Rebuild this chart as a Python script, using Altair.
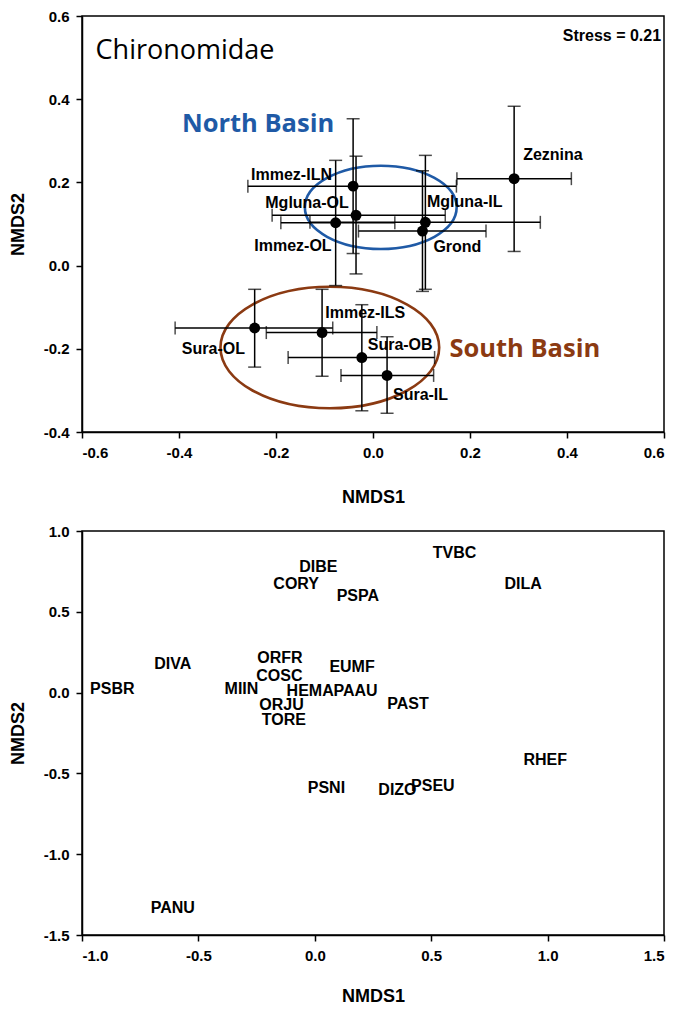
import altair as alt
import pandas as pd

# ---------------- top panel: site centroids with error bars ----------------
sites = ["Zeznina", "Mgluna-IL", "Grond", "Immez-ILN", "Mgluna-OL",
         "Immez-OL", "Immez-ILS", "Sura-OL", "Sura-OB", "Sura-IL"]
nmds1 = [0.291, 0.108, 0.102, -0.041, -0.035, -0.077, -0.105, -0.244, -0.023, 0.029]
nmds2 = [0.209, 0.104, 0.083, 0.191, 0.121, 0.103, -0.161, -0.150, -0.221, -0.264]
x_lo = [0.173, -0.130, -0.030, -0.258, -0.208, -0.190, -0.220, -0.408, -0.175, -0.066]
x_hi = [0.409, 0.345, 0.233, 0.172, 0.149, 0.045, 0.008, -0.083, 0.127, 0.125]
y_lo = [0.034, -0.057, -0.062, 0.029, -0.020, -0.048, -0.266, -0.244, -0.349, -0.355]
y_hi = [0.383, 0.265, 0.228, 0.353, 0.263, 0.253, -0.057, -0.057, -0.094, -0.171]
lab_x = [0.371, 0.189, 0.174, -0.168, -0.136, -0.165, -0.016, -0.329, 0.056, 0.098]
lab_y = [0.267, 0.153, 0.044, 0.217, 0.150, 0.048, -0.115, -0.200, -0.192, -0.310]

# basin ellipses (centre and extent in NMDS units)
basins = ["North Basin", "South Basin"]
basin_cx = [0.016, -0.089]
basin_cy = [0.140, -0.197]
basin_w = [0.313, 0.451]
basin_h = [0.200, 0.292]
basin_lx = [-0.237, 0.313]
basin_ly = [0.340, -0.200]
basin_col = ["#1f5aa6", "#8b3a12"]

# ---------------- bottom panel: species scores ----------------
species = ["TVBC", "DIBE", "CORY", "PSPA", "DILA", "DIVA", "PSBR", "ORFR", "EUMF",
           "COSC", "MIIN", "HEMA", "PAAU", "ORJU", "TORE", "PAST", "RHEF", "PSNI",
           "DIZO", "PSEU", "PANU"]
sp_x = [0.60, 0.015, -0.08, 0.185, 0.895, -0.61, -0.87, -0.15, 0.16,
        -0.152, -0.315, -0.02, 0.175, -0.143, -0.133, 0.40, 0.99, 0.05,
        0.355, 0.507, -0.61]
sp_y = [0.865, 0.775, 0.675, 0.595, 0.675, 0.175, 0.025, 0.215, 0.16,
        0.105, 0.02, 0.012, 0.01, -0.075, -0.17, -0.07, -0.42, -0.59,
        -0.60, -0.575, -1.33]

top_ticks_x = [-0.6, -0.4, -0.2, 0.0, 0.2, 0.4, 0.6]
top_ticks_y = [-0.4, -0.2, 0.0, 0.2, 0.4, 0.6]
bot_ticks_x = [-1.0, -0.5, 0.0, 0.5, 1.0, 1.5]
bot_ticks_y = [-1.5, -1.0, -0.5, 0.0, 0.5, 1.0]

TOP_W, TOP_H = 582, 416
BOT_W, BOT_H = 582, 404
FONT = "Liberation Sans"

lab_expr = "(datum.value < 0 ? '-' : '') + format(abs(datum.value), '.1f')"

sites_df = pd.DataFrame({"site": sites, "x": nmds1, "y": nmds2,
                         "xlo": x_lo, "xhi": x_hi, "ylo": y_lo, "yhi": y_hi,
                         "lx": lab_x, "ly": lab_y})

xs_t = alt.Scale(domain=[-0.6, 0.6], nice=False, zero=False)
ys_t = alt.Scale(domain=[-0.4, 0.6], nice=False, zero=False)
xax_t = alt.Axis(title="NMDS1", values=top_ticks_x, labelExpr=lab_expr, titlePadding=28)
yax_t = alt.Axis(title="NMDS2", values=top_ticks_y, labelExpr=lab_expr, titlePadding=16)


def XT(f):
    return alt.X(f, type="quantitative", scale=xs_t, axis=xax_t)


def YT(f):
    return alt.Y(f, type="quantitative", scale=ys_t, axis=yax_t)


base_t = alt.Chart(sites_df)

hbars = base_t.mark_rule(color="black", strokeWidth=1.5).encode(x=XT("xlo"), x2="xhi", y=YT("y"))
vbars = base_t.mark_rule(color="black", strokeWidth=1.5).encode(x=XT("x"), y=YT("ylo"), y2="yhi")
cap_lo = base_t.mark_tick(orient="horizontal", size=13, thickness=1.5, color="black").encode(x=XT("x"), y=YT("ylo"))
cap_hi = base_t.mark_tick(orient="horizontal", size=13, thickness=1.5, color="black").encode(x=XT("x"), y=YT("yhi"))
cap_l = base_t.mark_tick(orient="vertical", size=13, thickness=1.5, color="black").encode(x=XT("xlo"), y=YT("y"))
cap_r = base_t.mark_tick(orient="vertical", size=13, thickness=1.5, color="black").encode(x=XT("xhi"), y=YT("y"))
dots = base_t.mark_circle(size=120, color="black", opacity=1).encode(x=XT("x"), y=YT("y"))
site_labels = base_t.mark_text(font=FONT, fontWeight="bold", fontSize=16, color="black",
                               align="center", baseline="middle").encode(
    x=XT("lx"), y=YT("ly"), text="site")

ellipse_layers = []
for i in range(2):
    wpx = basin_w[i] * TOP_W / 1.2
    hpx = basin_h[i] * TOP_H / 1.0
    r = hpx / wpx
    path = f"M -1 0 A 1 {r:.4f} 0 0 1 1 0 A 1 {r:.4f} 0 0 1 -1 0 Z"
    edf = pd.DataFrame({"x": [basin_cx[i]], "y": [basin_cy[i]]})
    ellipse_layers.append(
        alt.Chart(edf).mark_point(shape=path, size=wpx * wpx, filled=False,
                                  color=basin_col[i], strokeWidth=2.6, opacity=1)
        .encode(x=XT("x"), y=YT("y"))
    )

basin_df = pd.DataFrame({"name": basins, "x": basin_lx, "y": basin_ly, "col": basin_col})
basin_text = alt.Chart(basin_df).mark_text(font="Open Sans", fontWeight="bold", fontSize=25.5,
                                           align="center", baseline="middle").encode(
    x=XT("x"), y=YT("y"), text="name",
    color=alt.Color("col:N", scale=None))

title_df = pd.DataFrame({"t": ["Chironomidae"], "x": [-0.572], "y": [0.516]})
title_text = alt.Chart(title_df).mark_text(font="Open Sans", fontSize=27, color="black",
                                           align="left", baseline="middle").encode(
    x=XT("x"), y=YT("y"), text="t")

stress_df = pd.DataFrame({"t": ["Stress = 0.21"], "x": [0.594], "y": [0.552]})
stress_text = alt.Chart(stress_df).mark_text(font=FONT, fontWeight="bold", fontSize=16, color="black",
                                             align="right", baseline="middle").encode(
    x=XT("x"), y=YT("y"), text="t")

top = alt.layer(*ellipse_layers, hbars, vbars, cap_lo, cap_hi, cap_l, cap_r, dots,
                site_labels, basin_text, title_text, stress_text).properties(width=TOP_W, height=TOP_H)

# ---------------- bottom chart ----------------
sp_df = pd.DataFrame({"sp": species, "x": sp_x, "y": sp_y})
bottom = alt.Chart(sp_df).mark_text(font=FONT, fontWeight="bold", fontSize=16, color="black",
                                    align="center", baseline="middle").encode(
    x=alt.X("x:Q", scale=alt.Scale(domain=[-1.0, 1.5], nice=False, zero=False),
            axis=alt.Axis(title="NMDS1", values=bot_ticks_x, labelExpr=lab_expr, titlePadding=24)),
    y=alt.Y("y:Q", scale=alt.Scale(domain=[-1.5, 1.0], nice=False, zero=False),
            axis=alt.Axis(title="NMDS2", values=bot_ticks_y, labelExpr=lab_expr, titlePadding=16)),
    text="sp",
).properties(width=BOT_W, height=BOT_H)

chart = alt.vconcat(top, bottom, spacing=16).properties(
    padding={"left": 0, "top": 0, "right": 0, "bottom": 0}
).configure_view(stroke="black", strokeWidth=1.5).configure_axis(
    grid=False, domainColor="black", domainWidth=1.5, tickColor="black", tickWidth=1.5,
    tickSize=6, labelPadding=7, labelFont=FONT, labelFontWeight="bold", labelFontSize=15,
    labelColor="black", titleFont=FONT, titleFontWeight="bold", titleFontSize=18,
    titleColor="black"
)

chart.save("out.html", embed_options={"renderer": "svg", "actions": False})
